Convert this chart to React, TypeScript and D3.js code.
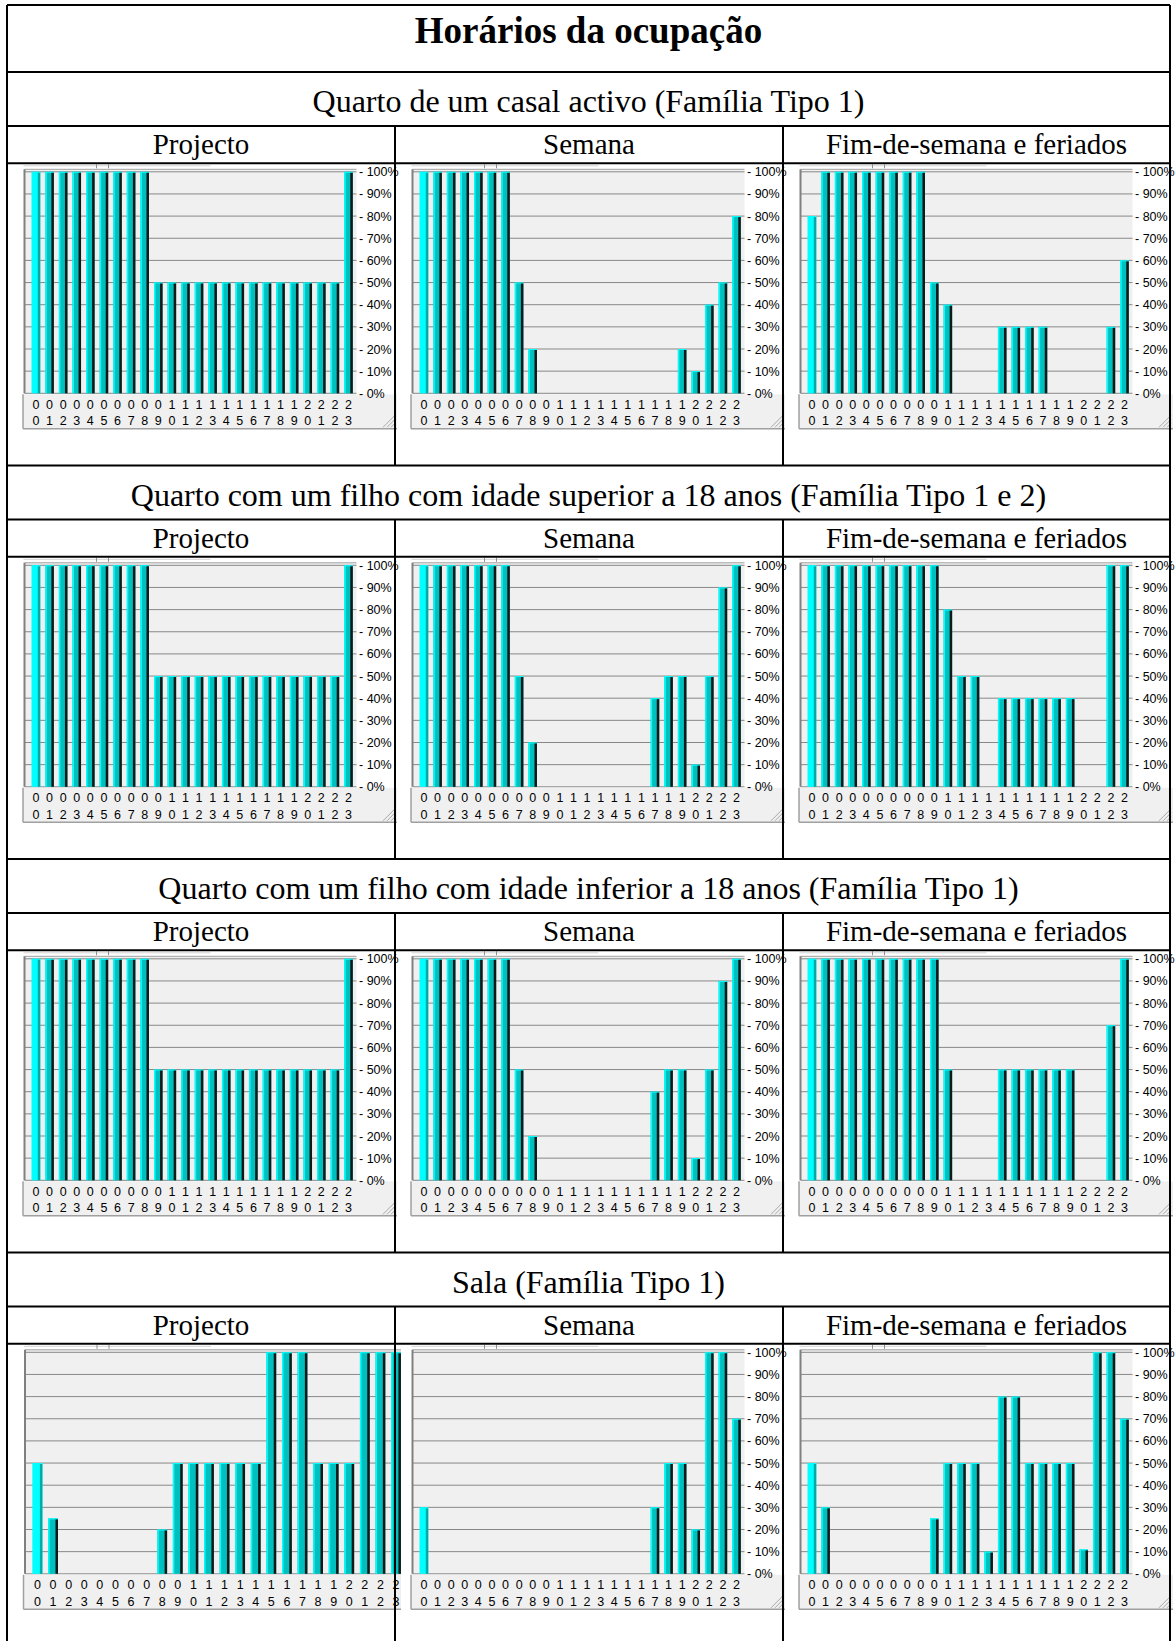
import React, { useEffect, useRef } from "react";
import * as d3 from "d3";

// hour labels, 00 -> 23
const hourLabels = ["00", "01", "02", "03", "04", "05", "06", "07", "08", "09", "10", "11",
  "12", "13", "14", "15", "16", "17", "18", "19", "20", "21", "22", "23"];
const percentTicks = [0, 10, 20, 30, 40, 50, 60, 70, 80, 90, 100];

const pageTitle = "Horários da ocupação";
const sectionTitles = [
  "Quarto de um casal activo (Família Tipo 1)",
  "Quarto com um filho com idade superior a 18 anos (Família Tipo 1 e 2)",
  "Quarto com um filho com idade inferior a 18 anos (Família Tipo 1)",
  "Sala (Família Tipo 1)",
];
const columnTitles = ["Projecto", "Semana", "Fim-de-semana e feriados"];

// occupation (%) per hour
const casalProjecto = [100, 100, 100, 100, 100, 100, 100, 100, 100, 50, 50, 50, 50, 50, 50, 50, 50, 50, 50, 50, 50, 50, 50, 100];
const casalSemana = [100, 100, 100, 100, 100, 100, 100, 50, 20, 0, 0, 0, 0, 0, 0, 0, 0, 0, 0, 20, 10, 40, 50, 80];
const casalFimSemana = [80, 100, 100, 100, 100, 100, 100, 100, 100, 50, 40, 0, 0, 0, 30, 30, 30, 30, 0, 0, 0, 0, 30, 60];

const filhoMaiorProjecto = [100, 100, 100, 100, 100, 100, 100, 100, 100, 50, 50, 50, 50, 50, 50, 50, 50, 50, 50, 50, 50, 50, 50, 100];
const filhoMaiorSemana = [100, 100, 100, 100, 100, 100, 100, 50, 20, 0, 0, 0, 0, 0, 0, 0, 0, 40, 50, 50, 10, 50, 90, 100];
const filhoMaiorFimSemana = [100, 100, 100, 100, 100, 100, 100, 100, 100, 100, 80, 50, 50, 0, 40, 40, 40, 40, 40, 40, 0, 0, 100, 100];

const filhoMenorProjecto = [100, 100, 100, 100, 100, 100, 100, 100, 100, 50, 50, 50, 50, 50, 50, 50, 50, 50, 50, 50, 50, 50, 50, 100];
const filhoMenorSemana = [100, 100, 100, 100, 100, 100, 100, 50, 20, 0, 0, 0, 0, 0, 0, 0, 0, 40, 50, 50, 10, 50, 90, 100];
const filhoMenorFimSemana = [100, 100, 100, 100, 100, 100, 100, 100, 100, 100, 50, 0, 0, 0, 50, 50, 50, 50, 50, 50, 0, 0, 70, 100];

const salaProjecto = [50, 25, 0, 0, 0, 0, 0, 0, 20, 50, 50, 50, 50, 50, 50, 100, 100, 100, 50, 50, 50, 100, 100, 100];
const salaSemana = [30, 0, 0, 0, 0, 0, 0, 0, 0, 0, 0, 0, 0, 0, 0, 0, 0, 30, 50, 50, 20, 100, 100, 70];
const salaFimSemana = [50, 30, 0, 0, 0, 0, 0, 0, 0, 25, 50, 50, 50, 10, 80, 80, 50, 50, 50, 50, 11, 100, 100, 70];

const sectionSeries = [
  [casalProjecto, casalSemana, casalFimSemana],
  [filhoMaiorProjecto, filhoMaiorSemana, filhoMaiorFimSemana],
  [filhoMenorProjecto, filhoMenorSemana, filhoMenorFimSemana],
  [salaProjecto, salaSemana, salaFimSemana],
];

const W = 1175, H = 1641;
const colX = [7, 395, 783, 1170];
const blockTop0 = 72, blockH = 393.5, sectionH = 54, headerH = 37.3;
const serif = "'Liberation Serif', 'Times New Roman', serif";
const sans = "'Liberation Sans', Arial, sans-serif";

function drawChart(svg: any, values: number[], cellLeft: number, cellTop: number, wide: boolean, id: string) {
  const plotLeft = cellLeft + (wide ? 18 : 17.5);
  const plotRight = plotLeft + (wide ? 380 : 332);
  const y0 = cellTop + 230, y100 = cellTop + 8.5;
  const boxRight = wide ? plotRight + 40 : cellLeft + 390;

  const x = d3.scaleBand().domain(hourLabels)
    .range([plotLeft + 4.7, plotRight - 1.2])
    .paddingInner(0.37).paddingOuter(0.185);
  const y = d3.scaleLinear().domain([0, 100]).range([y0, y100]);

  svg.append("clipPath").attr("id", id)
    .append("rect").attr("x", cellLeft).attr("y", cellTop)
    .attr("width", wide ? 394 : 398).attr("height", 300);
  const g = svg.append("g").attr("clip-path", `url(#${id})`);

  // bits of the toolbar cut off at the top
  g.append("line").attr("x1", plotLeft - 1).attr("x2", plotLeft + 186)
    .attr("y1", cellTop + 2.5).attr("y2", cellTop + 2.5)
    .attr("stroke", "#d4d4d4");
  [72, 84].forEach((dx) => {
    g.append("line").attr("x1", plotLeft + dx).attr("x2", plotLeft + dx)
      .attr("y1", cellTop + 1).attr("y2", cellTop + 5).attr("stroke", "#909090");
  });

  // plot background + grid
  g.append("rect").attr("x", plotLeft).attr("y", y100 - 2.5)
    .attr("width", plotRight - plotLeft).attr("height", y0 - y100 + 2.5)
    .attr("fill", "#f0f0f0");
  g.selectAll(".grid").data(percentTicks).enter().append("line")
    .attr("x1", plotLeft).attr("x2", plotRight)
    .attr("y1", (d) => y(d)).attr("y2", (d) => y(d))
    .attr("stroke", "#888").attr("stroke-width", 1);
  g.append("line").attr("x1", plotLeft).attr("x2", plotRight)
    .attr("y1", y100 - 2.5).attr("y2", y100 - 2.5).attr("stroke", "#a0a0a0");
  g.append("line").attr("x1", plotLeft).attr("x2", plotLeft)
    .attr("y1", y100 - 2.5).attr("y2", y0).attr("stroke", "#808080").attr("stroke-width", 2);

  // bars
  const bw = x.bandwidth();
  const bars = g.selectAll(".bar").data(values.map((v, i) => ({ v, h: hourLabels[i], i })).filter((d) => d.v > 0))
    .enter().append("g");
  bars.append("rect")
    .attr("x", (d) => x(d.h)).attr("y", (d) => y(d.v))
    .attr("width", bw).attr("height", (d) => y0 - y(d.v))
    .attr("fill", (d) => (d.i === 0 ? "#00ffff" : "#00bfbf"));
  bars.append("rect")
    .attr("x", (d) => x(d.h)).attr("y", (d) => y(d.v))
    .attr("width", 1.5).attr("height", (d) => y0 - y(d.v))
    .attr("fill", "#00ffff");
  bars.append("rect")
    .attr("x", (d) => x(d.h)).attr("y", (d) => y(d.v))
    .attr("width", bw).attr("height", 1)
    .attr("fill", "#00ffff");
  bars.append("rect")
    .attr("x", (d) => x(d.h) + bw - 2.5).attr("y", (d) => y(d.v) + 1)
    .attr("width", 2.5).attr("height", (d) => y0 - y(d.v) - 1)
    .attr("fill", (d) => (d.i === 0 ? "#00a8a8" : "#101818"));

  // hour label box
  g.append("rect").attr("x", plotLeft - 1.5).attr("y", y0 + 1)
    .attr("width", boxRight - plotLeft + 1.5).attr("height", 34.5)
    .attr("fill", "#f0f0f0");
  g.append("line").attr("x1", plotLeft - 1.5).attr("x2", boxRight)
    .attr("y1", y0 + 35.5).attr("y2", y0 + 35.5).attr("stroke", "#a0a0a0").attr("stroke-width", 1.5);
  g.append("line").attr("x1", plotLeft - 1.5).attr("x2", plotLeft - 1.5)
    .attr("y1", y0 + 1).attr("y2", y0 + 35.5).attr("stroke", "#a0a0a0").attr("stroke-width", 1.5);
  [4, 8, 12].forEach((k) => {
    g.append("line").attr("x1", boxRight - 2 - k).attr("y1", y0 + 34)
      .attr("x2", boxRight - 2).attr("y2", y0 + 34 - k).attr("stroke", "#a8a8a8");
  });
  const labs = g.selectAll(".xlab").data(hourLabels).enter();
  labs.append("text")
    .attr("x", (d) => x(d) + bw / 2).attr("y", y0 + 15.5)
    .attr("text-anchor", "middle")
    .style("font-family", sans).style("font-size", "12.5px").attr("fill", "#000")
    .text((d) => d[0]);
  labs.append("text")
    .attr("x", (d) => x(d) + bw / 2).attr("y", y0 + 32)
    .attr("text-anchor", "middle")
    .style("font-family", sans).style("font-size", "12.5px").attr("fill", "#000")
    .text((d) => d[1]);

  // y labels on the right
  if (!wide) {
    g.selectAll(".ylab").data(percentTicks).enter().append("text")
      .attr("x", plotRight + 2.5).attr("y", (d) => y(d) + 4.5)
      .style("font-family", sans).style("font-size", "12.5px").attr("fill", "#000")
      .text((d) => `- ${d}%`);
  }
}

export default function App() {
  const ref = useRef<SVGSVGElement | null>(null);

  useEffect(() => {
    const svg = d3.select(ref.current);
    svg.selectAll("*").remove();

    svg.append("rect").attr("width", W).attr("height", H).attr("fill", "#fff");

    const midX = (colX[0] + colX[3]) / 2;
    svg.append("text").attr("x", midX).attr("y", 43)
      .attr("text-anchor", "middle")
      .style("font-family", serif).style("font-size", "37px").style("font-weight", "bold")
      .text(pageTitle);

    sectionTitles.forEach((title, i) => {
      const top = blockTop0 + i * blockH;
      const headTop = top + sectionH;
      const chartTop = headTop + headerH;

      svg.append("text").attr("x", midX).attr("y", top + 40)
        .attr("text-anchor", "middle")
        .style("font-family", serif).style("font-size", "32px")
        .text(title);

      columnTitles.forEach((ct, c) => {
        svg.append("text").attr("x", (colX[c] + colX[c + 1]) / 2).attr("y", headTop + 28)
          .attr("text-anchor", "middle")
          .style("font-family", serif).style("font-size", "29px")
          .text(ct);
        const wide = i === 3 && c === 0; // sala/projecto picture has no % axis
        drawChart(svg, sectionSeries[i][c], colX[c], chartTop, wide, `clip-${i}-${c}`);
      });
    });

    // table borders
    const lw = 2;
    const hLines = [5];
    sectionTitles.forEach((_, i) => {
      const top = blockTop0 + i * blockH;
      hLines.push(top, top + sectionH, top + sectionH + headerH);
    });
    hLines.forEach((yy) => {
      svg.append("line").attr("x1", colX[0]).attr("x2", colX[3])
        .attr("y1", yy).attr("y2", yy).attr("stroke", "#000").attr("stroke-width", lw);
    });
    [colX[0], colX[3]].forEach((xx) => {
      svg.append("line").attr("x1", xx).attr("x2", xx).attr("y1", 5).attr("y2", H)
        .attr("stroke", "#000").attr("stroke-width", lw);
    });
    sectionTitles.forEach((_, i) => {
      const top = blockTop0 + i * blockH;
      const bottom = i === sectionTitles.length - 1 ? H : top + blockH;
      [colX[1], colX[2]].forEach((xx) => {
        svg.append("line").attr("x1", xx).attr("x2", xx)
          .attr("y1", top + sectionH).attr("y2", bottom)
          .attr("stroke", "#000").attr("stroke-width", lw);
      });
    });
  }, []);

  return (
    <svg ref={ref} width={W} height={H}
      style={{ position: "absolute", left: 0, top: 0, display: "block" }} />
  );
}
